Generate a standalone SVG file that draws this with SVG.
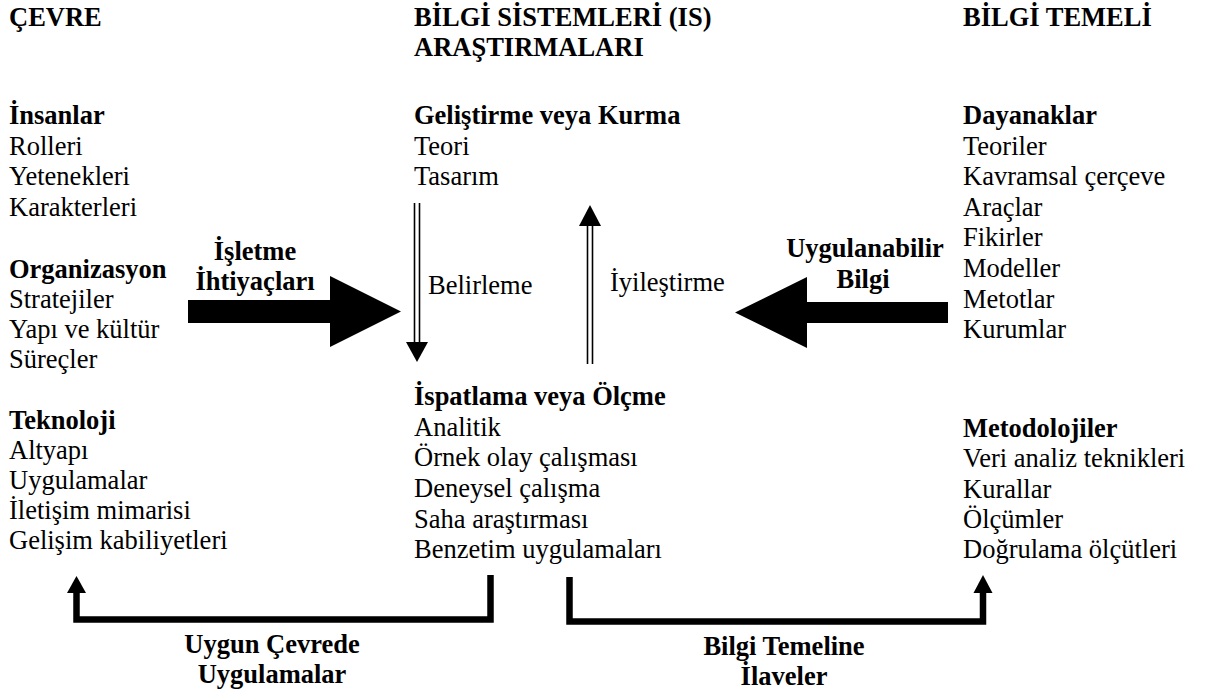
<svg xmlns="http://www.w3.org/2000/svg" width="1207" height="695" viewBox="0 0 1207 695">
<style>
text{font-family:"Liberation Serif","Times New Roman",serif;font-size:26.5px;fill:#000}
.b{font-weight:bold}
.m{text-anchor:middle}
.thin{stroke:#000;stroke-width:1.6;fill:none}
.thick{stroke:#000;stroke-width:6.5;fill:none;stroke-linejoin:miter;stroke-linecap:butt}
.fill{fill:#000;stroke:none}
</style>
<rect width="1207" height="695" fill="#fff"/>
<g id="col-cevre">
<text class="b" x="9" y="26">ÇEVRE</text>
</g>
<g id="col-is">
<text class="b" x="414" y="26">BİLGİ SİSTEMLERİ (IS)</text>
<text class="b" x="414" y="56">ARAŞTIRMALARI</text>
</g>
<g id="col-bilgi">
<text class="b" x="963" y="26">BİLGİ TEMELİ</text>
</g>
<g id="node-insanlar">
<text class="b" x="9" y="124">İnsanlar</text>
<text x="9" y="154.6">Rolleri</text>
<text x="9" y="185.2">Yetenekleri</text>
<text x="9" y="215.8">Karakterleri</text>
</g>
<g id="node-organizasyon">
<text class="b" x="9" y="278">Organizasyon</text>
<text x="9" y="307.5">Stratejiler</text>
<text x="9" y="337.5">Yapı ve kültür</text>
<text x="9" y="367.5">Süreçler</text>
</g>
<g id="node-teknoloji">
<text class="b" x="9" y="429">Teknoloji</text>
<text x="9" y="459">Altyapı</text>
<text x="9" y="489">Uygulamalar</text>
<text x="9" y="519">İletişim mimarisi</text>
<text x="9" y="549">Gelişim kabiliyetleri</text>
</g>
<g id="node-gelistirme">
<text class="b" x="414" y="124">Geliştirme veya Kurma</text>
<text x="414" y="154.6">Teori</text>
<text x="414" y="185.2">Tasarım</text>
</g>
<g id="node-ispatlama">
<text class="b" x="414" y="405">İspatlama veya Ölçme</text>
<text x="414" y="435.5">Analitik</text>
<text x="414" y="466">Örnek olay çalışması</text>
<text x="414" y="497">Deneysel çalışma</text>
<text x="414" y="527.5">Saha araştırması</text>
<text x="414" y="558">Benzetim uygulamaları</text>
</g>
<g id="node-dayanaklar">
<text class="b" x="963" y="124">Dayanaklar</text>
<text x="963" y="154.6">Teoriler</text>
<text x="963" y="185.2">Kavramsal çerçeve</text>
<text x="963" y="215.8">Araçlar</text>
<text x="963" y="246.4">Fikirler</text>
<text x="963" y="277">Modeller</text>
<text x="963" y="307.6">Metotlar</text>
<text x="963" y="338.2">Kurumlar</text>
</g>
<g id="node-metodolojiler">
<text class="b" x="963" y="437">Metodolojiler</text>
<text x="963" y="467">Veri analiz teknikleri</text>
<text x="963" y="497.5">Kurallar</text>
<text x="963" y="528">Ölçümler</text>
<text x="963" y="558">Doğrulama ölçütleri</text>
</g>
<g id="connectors">
<polygon class="fill" points="188,300 330,300 330,276 401,311.5 330,347 330,323 188,323"/>
<text class="b m" x="255" y="260">İşletme</text>
<text class="b m" x="255" y="290">İhtiyaçları</text>
<polygon class="fill" points="948,302 807,302 807,277 735,312.5 807,348 807,323 948,323"/>
<text class="b m" x="865" y="257">Uygulanabilir</text>
<text class="b m" x="863" y="288">Bilgi</text>
<line class="thin" x1="414.5" y1="203" x2="414.5" y2="343"/>
<line class="thin" x1="419.5" y1="203" x2="419.5" y2="343"/>
<polygon class="fill" points="406,342 428,342 417,362"/>
<text x="428" y="294">Belirleme</text>
<line class="thin" x1="587.5" y1="225" x2="587.5" y2="364"/>
<line class="thin" x1="592.5" y1="225" x2="592.5" y2="364"/>
<polygon class="fill" points="579,226 601,226 590,205"/>
<text x="610" y="291">İyileştirme</text>
<polyline class="thick" points="490.5,575 490.5,619.5 76.5,619.5 76.5,592"/>
<polygon class="fill" points="67,593 86,593 76.5,576"/>
<text class="b m" x="272" y="653">Uygun Çevrede</text>
<text class="b m" x="272" y="683">Uygulamalar</text>
<polyline class="thick" points="569.5,577 569.5,621.5 983,621.5 983,592"/>
<polygon class="fill" points="973.5,593 992.5,593 983,575"/>
<text class="b m" x="784" y="655">Bilgi Temeline</text>
<text class="b m" x="784" y="685">İlaveler</text>
</g>
</svg>
